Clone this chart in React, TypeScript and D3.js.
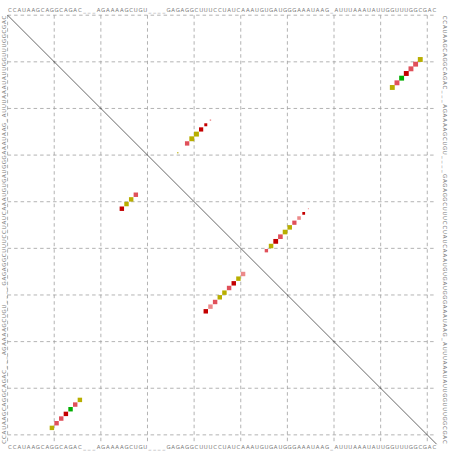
import React from "react";
import * as d3 from "d3";

const SEQUENCE =
  "CCAUAAGCAGGCAGAC___AGAAAAGCUGU____GAGAGGCUUUCCUAUCAAAUGUGAUGGGAAAUAAG_AUUUAAAUAUUGGUUUGGCGAC";
const GRID_TICKS = [0, 10, 20, 30, 40, 50, 60, 70, 80, 90];

// Upper triangle: pair probabilities (i < j)
const upperI = [10, 11, 12, 13, 14, 15, 16, 23, 24, 25, 26, 27, 28, 30, 42, 43, 44, 45, 46, 47, 48, 49, 50, 51];
const upperJ = [89, 88, 87, 86, 85, 84, 83, 44, 43, 42, 41, 40, 39, 37, 65, 64, 63, 62, 61, 60, 59, 58, 57, 56];
const upperP = [1, 0.95, 0.95, 0.97, 1, 0.95, 1, 0.08, 0.35, 0.7, 1, 1, 0.75, 0.06, 0.04, 0.3, 0.5, 0.7, 0.8, 0.85, 0.85, 0.9, 0.8, 0.45];
const upperC = ["ochre", "rose", "rose", "red", "green", "rose", "ochre", "pink", "red", "red", "ochre", "ochre", "rose", "ochre", "pink", "red", "pink", "rose", "ochre", "ochre", "rose", "red", "ochre", "rose"];

// Lower triangle: MFE structure
const lowerI = [10, 11, 12, 13, 14, 15, 16, 25, 26, 27, 28, 43, 44, 45, 46, 47, 48, 49, 50, 51];
const lowerJ = [89, 88, 87, 86, 85, 84, 83, 42, 41, 40, 39, 64, 63, 62, 61, 60, 59, 58, 57, 56];
const lowerC = ["ochre", "rose", "rose", "red", "green", "rose", "ochre", "red", "ochre", "ochre", "rose", "red", "pink", "rose", "ochre", "ochre", "rose", "red", "ochre", "pink"];

const COLOR_KEYS = ["red", "rose", "pink", "ochre", "green"];
const COLOR_VALUES = ["#c40000", "#e0505a", "#ec8a8a", "#b8ae00", "#00ad00"];

export default function App() {
  const W = 452;
  const H = 451;
  const left = 7.6;
  const top = 15.2;
  const size = 429;
  const N = SEQUENCE.length;
  const cell = size / N;

  const x = d3.scaleLinear().domain([0, N]).range([left, left + size]);
  const y = d3.scaleLinear().domain([0, N]).range([top, top + size]);
  const color = d3.scaleOrdinal<string, string>().domain(COLOR_KEYS).range(COLOR_VALUES);
  const letters = SEQUENCE.split("");

  const upper = upperI.map((i, k) => ({ i, j: upperJ[k], p: upperP[k], c: upperC[k] }));
  const lower = lowerI.map((i, k) => ({ i, j: lowerJ[k], c: lowerC[k] }));

  const fs = 5.4;
  const textFill = "#7c7c7c";

  return (
    <svg width={W} height={H} style={{ position: "absolute", left: 0, top: 0 }}>
      <rect width={W} height={H} fill="#fff" />
      {/* grid */}
      <g stroke="#a0a0a0" strokeWidth={0.8} strokeDasharray="3.5,3">
        {GRID_TICKS.map((t) => (
          <line key={"v" + t} x1={x(t)} x2={x(t)} y1={y(0)} y2={y(N)} />
        ))}
        {GRID_TICKS.map((t) => (
          <line key={"h" + t} x1={x(0)} x2={x(N)} y1={y(t)} y2={y(t)} />
        ))}
      </g>
      {/* diagonal */}
      <line x1={x(0)} y1={y(0)} x2={x(N)} y2={y(N)} stroke="#000" strokeWidth={0.6} />
      {/* upper triangle */}
      {upper.map((d, k) => {
        const s = Math.min(cell * 1.08 * Math.sqrt(d.p), cell * 1.05);
        const cx = x(d.j - 0.5);
        const cy = y(d.i - 0.5);
        return <rect key={"u" + k} x={cx - s / 2} y={cy - s / 2} width={s} height={s} fill={color(d.c)} />;
      })}
      {/* lower triangle */}
      {lower.map((d, k) => {
        const s = cell * 0.95;
        const cx = x(d.i - 0.5);
        const cy = y(d.j - 0.5);
        return <rect key={"l" + k} x={cx - s / 2} y={cy - s / 2} width={s} height={s} fill={color(d.c)} />;
      })}
      {/* sequence labels */}
      <g fontFamily="DejaVu Sans, sans-serif" fontSize={fs} fill={textFill} textAnchor="middle">
        {letters.map((ch, k) => (
          <text key={"t" + k} x={x(k + 0.5)} y={12.4}>{ch}</text>
        ))}
        {letters.map((ch, k) => (
          <text key={"b" + k} x={x(k + 0.5)} y={449}>{ch}</text>
        ))}
        {letters.map((ch, k) => {
          const py = y(N - k - 0.5);
          return (
            <text key={"l" + k} transform={`translate(6.2,${py}) rotate(-90)`}>{ch}</text>
          );
        })}
        {letters.map((ch, k) => {
          const py = y(k + 0.5);
          return (
            <text key={"r" + k} transform={`translate(442.8,${py}) rotate(90)`}>{ch}</text>
          );
        })}
      </g>
    </svg>
  );
}
